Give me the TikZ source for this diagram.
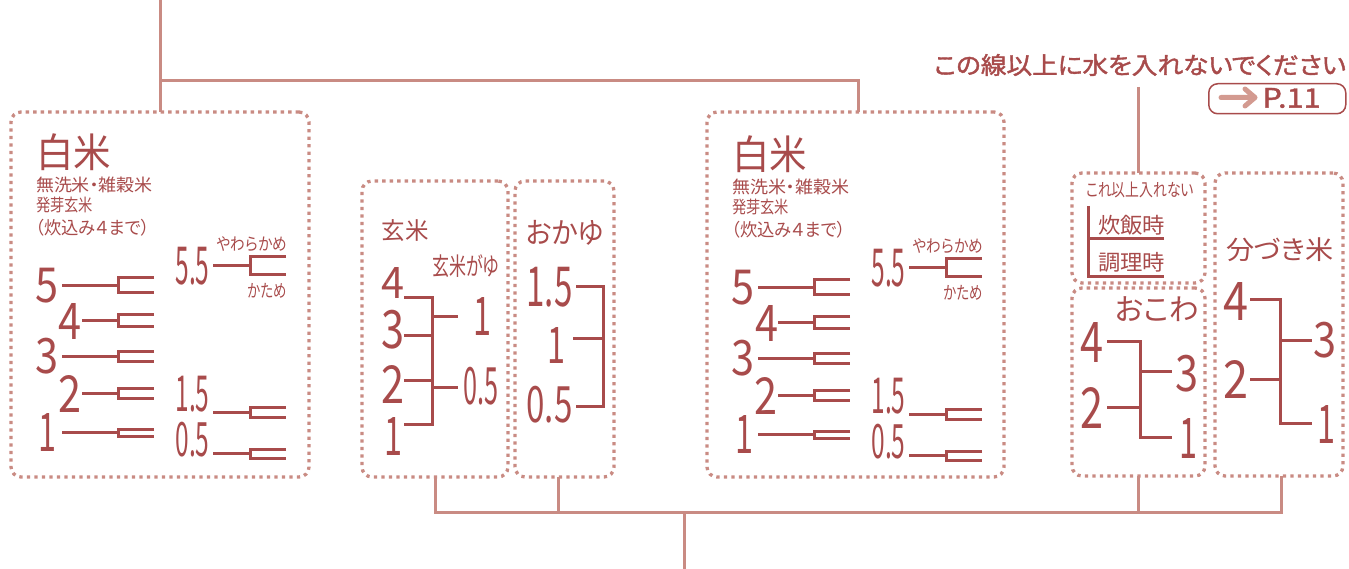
\documentclass[tikz,border=0pt]{standalone}
\usepackage{fontspec}
\setmainfont[RawFeature=+palt]{Noto Sans CJK JP}
\newfontfamily\boldjp[RawFeature=+palt,FakeBold=1.6]{Noto Sans CJK JP}
\usepackage{graphicx}
\definecolor{tc}{HTML}{A84B4B}
\definecolor{cc}{HTML}{C98B83}
\definecolor{ac}{HTML}{D39A90}
\newcommand\rb[3]{\resizebox*{#1pt}{#2pt}{#3}}
\newcommand\wbar[5]{%
  \draw[bar] (#1,{(#4+#5)/2}) -- (#2,{(#4+#5)/2});
  \draw[bar] (#3,#4) -- (#2,#4) -- (#2,#5) -- (#3,#5);}
\newcommand\whiterice{%
  \node[txt] (hk) at (73.5,152) {\rb{75}{37}{白米}};
  \node[txt] (s1) at (94.5,185) {\rb{117}{16}{無洗米・雑穀米}};
  \node[txt] (s2) at (64.5,205) {\rb{57}{16}{発芽玄米}};
  \node[txt] (s3) at (92.5,227.5) {\rb{114}{17}{（炊込み４まで）}};
  \node[txt] (yw) at (252,244.5) {\rb{70}{15}{やわらかめ}};
  \node[txt] (kt) at (267,290.5) {\rb{39}{15}{かため}};
  \node[txt] (n5) at (47,285.5) {\rb{23}{35}{5}};
  \node[txt] (n4) at (70.5,321) {\rb{23}{36}{4}};
  \node[txt] (n3) at (47,356.5) {\rb{23}{36}{3}};
  \node[txt] (n2) at (70,394) {\rb{23}{37}{2}};
  \node[txt] (n1) at (48,432.5) {\rb{18}{38}{1}};
  \node[txt] (d55) at (192.5,266) {\rb{34}{38}{5.5}};
  \node[txt] (d15) at (192.5,394.5) {\rb{34}{36}{1.5}};
  \node[txt] (d05) at (192.5,440) {\rb{34}{35}{0.5}};
  \wbar{62}{118}{154}{278}{293}
  \wbar{82}{118}{154}{314}{326}
  \wbar{62}{118}{154}{351}{361}
  \wbar{82}{118}{154}{388}{398}
  \wbar{62}{118}{154}{429}{436}
  \wbar{213}{250}{286}{257}{275}
  \wbar{213}{250}{286}{407}{417}
  \wbar{213}{250}{286}{449}{458}
}
\begin{document}
\begin{tikzpicture}[x=1pt,y=-1pt,
  txt/.style={inner sep=0pt,outer sep=0pt,text=tc,anchor=center},
  panel/.style={draw=cc,line width=3.3pt,dash pattern=on 3.3pt off 4.2pt,rounded corners=10pt,inner sep=0pt,outer sep=0pt,anchor=north west},
  conn/.style={draw=cc,line width=3pt},
  bar/.style={draw=tc,line width=3pt}]
\useasboundingbox (0,0) rectangle (1349,569);
% panels
\node[panel,minimum width=298pt,minimum height=365pt] (wl) at (11,112) {};
\node[panel,minimum width=146pt,minimum height=296pt] (gen) at (362,181) {};
\node[panel,minimum width=99pt,minimum height=296pt] (oka) at (515,181) {};
\node[panel,minimum width=297pt,minimum height=365pt] (wr) at (707,112) {};
\node[panel,minimum width=133pt,minimum height=110pt] (lim) at (1072,173) {};
\node[panel,minimum width=133pt,minimum height=188pt] (okw) at (1072,288) {};
\node[panel,minimum width=128pt,minimum height=303pt] (bun) at (1215,173) {};
% white rice contents
\begin{scope}[name prefix=l-]
\whiterice
\end{scope}
\begin{scope}[name prefix=r-,xshift=696pt,yshift=-2pt]
\whiterice
\end{scope}
% genmai
\node[txt] (gtitle) at (405,231) {\rb{47}{22}{玄米}};
\node[txt] (gkayu) at (466,266.5) {\rb{67}{23}{玄米がゆ}};
\node[txt] (g4) at (393,282.5) {\rb{23}{31}{4}};
\node[txt] (g3) at (393,330) {\rb{23}{39}{3}};
\node[txt] (g2) at (393,384) {\rb{23}{38}{2}};
\node[txt] (g1) at (393,436) {\rb{18}{38}{1}};
\node[txt] (gk1) at (482,316) {\rb{18}{38}{1}};
\node[txt] (gk05) at (481,386) {\rb{35}{38}{0.5}};
\draw[bar] (404,298) -- (432,298) -- (432,424) -- (404,424);
\draw[bar] (404,335) -- (432,335);
\draw[bar] (404,380) -- (432,380);
\draw[bar] (432,316) -- (458,316);
\draw[bar] (432,387) -- (458,387);
% okayu
\node[txt] (otitle) at (565,232.5) {\rb{78}{25}{おかゆ}};
\node[txt] (o15) at (549.5,287) {\rb{46}{40}{1.5}};
\node[txt] (o1) at (556,345) {\rb{18}{36}{1}};
\node[txt] (o05) at (549.5,405) {\rb{46}{37}{0.5}};
\draw[bar] (576,287) -- (603,287) -- (603,406) -- (576,406);
\draw[bar] (573,338) -- (603,338);
% limit box
\node[txt] (ltitle) at (1140,190) {\rb{108}{16}{これ以上入れない}};
\node[txt] (lsui) at (1131.5,225) {\rb{67}{20}{炊飯時}};
\node[txt] (lcho) at (1131.5,262) {\rb{67}{20}{調理時}};
\draw[bar] (1164,239) -- (1088,239);
\draw[bar] (1088,206) -- (1088,277) -- (1164,277);
% okowa
\node[txt] (wtitle) at (1157,309.5) {\rb{84}{25}{おこわ}};
\node[txt] (w4) at (1092,342) {\rb{23}{40}{4}};
\node[txt] (w2) at (1092,407.5) {\rb{23}{41}{2}};
\node[txt] (w3) at (1187,373.5) {\rb{23}{37}{3}};
\node[txt] (w1) at (1188.5,438) {\rb{18}{40}{1}};
\draw[bar] (1107,341) -- (1140,341) -- (1140,437) -- (1172,437);
\draw[bar] (1107,407) -- (1140,407);
\draw[bar] (1140,371) -- (1172,371);
% bunzuki
\node[txt] (btitle) at (1280,250) {\rb{108}{24}{分づき米}};
\node[txt] (b4) at (1236,301) {\rb{25}{38}{4}};
\node[txt] (b2) at (1236,379) {\rb{25}{38}{2}};
\node[txt] (b3) at (1325,340) {\rb{23}{36}{3}};
\node[txt] (b1) at (1326,424) {\rb{18}{38}{1}};
\draw[bar] (1250,300) -- (1280,300) -- (1280,423) -- (1312,423);
\draw[bar] (1250,379) -- (1280,379);
\draw[bar] (1280,340) -- (1312,340);
% title and reference
\node[txt] (title) at (1140,65) {\rb{412}{22}{\boldjp この線以上に水を入れないでください}};
\node[draw=tc,line width=1.5pt,rounded corners=9pt,minimum width=137pt,minimum height=30pt,inner sep=0pt,anchor=north west] (pbox) at (1208,83) {};
\node[txt] (pref) at (1291.5,98) {\rb{58}{20}{\boldjp P.11}};
\draw[ac,line width=5pt,line cap=round,line join=round] (1221,97.5) -- (1255,97.5) (1245,89) -- (1255,97.5) -- (1245,106);
% connectors
\coordinate (topend) at (160,0);
\coordinate (hbar) at (0,81);
\coordinate (tl) at (0,87);
\coordinate (bus) at (0,512);
\coordinate (base) at (684,569);
\draw[conn] (topend) -- (wl.north);
\draw[conn] (wl.north |- hbar) -- ([xshift=2.5pt]wr.north |- hbar) -- ([xshift=2.5pt]wr.north);
\draw[conn] (lim.north |- tl) -- (lim.north);
\draw[conn] (gen.south) -- (gen.south |- bus) -- ([xshift=2pt]bun.south |- bus) -- ([xshift=2pt]bun.south);
\draw[conn] ([xshift=-6.5pt]oka.south) -- ([xshift=-6.5pt]oka.south |- bus);
\draw[conn] (okw.south) -- (okw.south |- bus);
\draw[conn] (base |- bus) -- (base);
\end{tikzpicture}
\end{document}
